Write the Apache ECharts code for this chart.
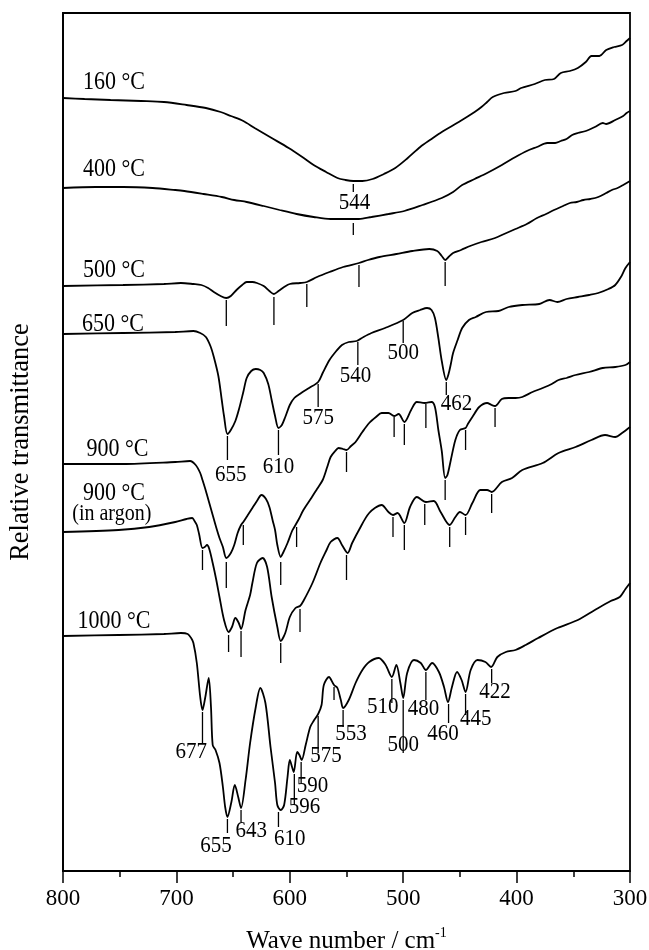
<!DOCTYPE html>
<html>
<head>
<meta charset="utf-8">
<script src="https://cdn.jsdelivr.net/npm/echarts/dist/echarts.min.js"></script>
<style>
html, body { margin: 0; padding: 0; background: #fff; }
#chart { width: 649px; height: 950px; }
</style>
</head>
<body>
<div id="chart"></div>
<script>
// IR spectra of samples annealed at different temperatures.
// Each point: [wave number / cm-1, offset transmittance (arbitrary units)]
const spec160 = [[800,773],[781,772],[758,771],[731,770],[711,769],[691,766],[674,763],[661,759],[652,755],[641,750],[631,743],[616,733],[601,723],[589,714],[579,706],[568,699],[558,693],[551,691],[544,690],[536,690],[527,692],[517,697],[507,703],[496,713],[485,724],[475,732],[466,739],[451,749],[437,759],[431,764],[426,769],[421,774],[411,778],[401,780],[396,783],[384,787],[375,791],[367,792],[361,798],[353,800],[346,803],[339,809],[334,815],[327,815],[321,821],[314,824],[307,826],[303,830],[300,833]];
const spec400 = [[800,683],[771,684],[747,684],[721,683],[701,681],[693,680],[676,677],[660,674],[649,671],[638,669],[623,665],[609,661],[594,657],[579,654],[564,652],[550,652],[544,652],[539,652],[528,654],[513,657],[499,660],[483,666],[466,673],[456,679],[448,686],[437,692],[426,698],[413,706],[401,714],[391,720],[382,724],[373,728],[366,728],[361,730],[356,732],[351,736],[346,738],[339,740],[331,744],[324,748],[321,747],[313,751],[306,755],[303,758],[300,760]];
const spec500 = [[800,585],[747,586],[711,587],[696,588],[685,587],[678,586],[672,583],[667,579],[661,575],[656,573],[652,575],[647,581],[642,586],[638,589],[633,589],[629,588],[623,585],[618,580],[614,577],[610,580],[605,584],[600,587],[591,588],[585,589],[576,594],[565,599],[553,604],[539,608],[531,611],[521,614],[506,617],[492,620],[477,622],[470,620],[466,615],[463,611],[460,614],[456,618],[449,621],[441,625],[431,629],[419,633],[411,637],[401,642],[391,647],[382,653],[374,657],[367,661],[359,665],[353,668],[347,669],[341,671],[335,672],[328,674],[321,678],[316,681],[311,683],[306,686],[300,690]];
const spec650 = [[800,537],[747,538],[701,539],[685,540],[679,538],[674,534],[670,525],[667,514],[663,495],[660,471],[658,455],[655,437],[652,441],[648,450],[645,461],[641,479],[638,493],[634,500],[630,502],[626,501],[623,498],[619,487],[616,471],[613,455],[610,443],[607,446],[604,454],[600,466],[596,473],[590,478],[583,483],[575,489],[571,498],[565,511],[559,520],[554,526],[548,529],[541,530],[535,534],[528,538],[516,543],[500,551],[492,558],[485,561],[479,563],[475,561],[472,553],[469,533],[466,510],[462,491],[460,497],[458,507],[456,518],[452,531],[448,543],[442,551],[436,554],[427,559],[416,560],[407,564],[395,566],[380,567],[371,571],[364,569],[356,572],[346,574],[336,576],[328,578],[319,582],[313,586],[308,594],[304,603],[300,609]];
const spec900 = [[800,407],[747,407],[701,409],[688,410],[683,406],[679,398],[677,391],[674,380],[671,368],[668,356],[665,344],[662,333],[659,324],[656,313],[652,318],[649,326],[646,338],[643,346],[641,349],[637,356],[633,363],[629,370],[625,376],[621,372],[618,364],[615,350],[613,341],[611,326],[608,314],[606,318],[602,328],[598,340],[596,344],[592,352],[588,361],[581,373],[576,382],[571,391],[567,404],[564,414],[560,420],[557,423],[553,422],[550,421],[546,425],[542,429],[536,439],[530,448],[524,454],[519,458],[513,458],[508,455],[504,457],[499,449],[493,461],[488,469],[481,468],[475,469],[472,464],[469,441],[466,420],[463,393],[461,396],[458,411],[454,431],[450,441],[445,443],[443,447],[439,454],[433,464],[426,468],[422,466],[419,465],[413,472],[407,473],[401,473],[395,474],[386,479],[377,483],[369,487],[363,491],[356,493],[348,496],[336,499],[324,503],[313,504],[304,506],[300,509]];
const specArgon = [[800,339],[751,341],[724,344],[701,349],[691,352],[686,353],[684,350],[682,346],[680,337],[677,323],[675,324],[673,326],[671,322],[668,308],[665,292],[662,274],[658,251],[654,239],[651,244],[648,253],[645,248],[643,242],[639,261],[635,276],[633,288],[629,308],[624,313],[620,304],[616,274],[611,244],[608,230],[604,238],[600,254],[595,263],[591,265],[588,270],[580,288],[573,308],[568,320],[564,329],[558,333],[554,326],[549,318],[545,328],[539,341],[530,358],[519,366],[513,359],[509,356],[505,358],[499,348],[494,364],[488,374],[480,369],[473,370],[467,359],[459,346],[454,354],[450,359],[445,356],[439,368],[432,381],[426,381],[422,379],[413,389],[404,393],[395,401],[377,408],[363,418],[348,424],[334,431],[322,436],[313,434],[307,438],[300,444]];
const spec1000 = [[800,235],[751,236],[711,237],[696,238],[690,237],[687,233],[685,228],[682,208],[679,174],[677,161],[674.5,174],[671.5,193],[669.5,164],[668,126],[665.5,121],[662,108],[659,84],[657,64],[655,54],[651.5,69],[648.5,86],[645.5,74],[643,63],[639,91],[635,128],[630,164],[626,183],[621.5,168],[617,124],[613,88],[611,66],[608,61],[605,66],[602,94],[600,111],[598,104],[596.5,99],[593.5,119],[591.5,116],[589.5,111],[586,126],[582,144],[579,150],[575,157],[572,166],[570,186],[565.5,194],[561,186],[558,183],[555,171],[553,163],[548,171],[542,188],[536,201],[530,209],[521.5,213],[515.5,206],[510,194],[506,206],[502.5,188],[500,173],[496.5,198],[490.5,211],[484.5,208],[480,201],[474.5,208],[468.5,199],[464,184],[460.5,169],[457,184],[452.5,199],[448.5,191],[445,179],[440.5,201],[434.5,211],[427.5,209],[422.5,204],[417,214],[409.5,219],[401,221],[392,226],[381,233],[364,243],[346,251],[331,261],[317,270],[309,274],[304,282],[300,288]];

// Peak markers: [wave number, upper end, lower end]
const ticks160 = [[544,687,679]];
const ticks400 = [[544,648,636]];
const ticks500 = [[656,571,545],[614,574,546],[585,587,564],[539,606,584],[463,609,585]];
const ticks650 = [[655,435,411],[610,441,416],[575,487,464],[540,529,506],[500,550,528],[462,489,476]];
const ticks900 = [[656,309,283],[641,346,326],[608,309,286],[594,344,324],[550,419,399],[508,454,434],[499,447,426],[480,467,443],[463,391,371],[445,441,421],[419,463,444]];
const ticksArgon = [[677,321,301],[654,236,219],[643,240,214],[608,228,208],[591,262,239],[550,316,291],[509,354,334],[499,346,321],[481,367,346],[459,344,324],[445,354,336],[422,377,358]];
const ticks1000 = [[677,159,128],[655,52,38],[643,61,49],[610,59,44],[596,97,66],[590,109,88],[575,155,118],[561,184,171],[553,161,144],[510,192,168],[500,171,118],[480,199,171],[460,167,148],[445,177,156],[422,202,188]];

// Peak positions written beside the markers: [wave number, level, text]
const peakLabels = [
  [543,668,'544'],
  [652,396,'655'],[610,404,'610'],[575,453,'575'],[542,495,'540'],[500,518,'500'],[453,467,'462'],
  [687,119,'677'],[665,25,'655'],[634,40,'643'],[600,32,'610'],[587,64,'596'],[580,85,'590'],[568,115,'575'],
  [546,137,'553'],[518,164,'510'],[500,126,'500'],[482,162,'480'],[465,137,'460'],[436,152,'445'],[419,179,'422']
];

// Annealing temperatures: [wave number, level, text]
const tempLabels = [
  [755,788,'160 °C'],[755,701,'400 °C'],[755,600,'500 °C'],[756,546,'650 °C'],
  [752,421,'900 °C'],[755,377,'900 °C'],[755,249,'1000 °C']
];
const noteLabels = [[757,357,'(in argon)']];

const xTicks = { min: 300, max: 800, step: 100 };

const serif = '"Liberation Serif", "Times New Roman", serif';
const spectra = [spec160, spec400, spec500, spec650, spec900, specArgon, spec1000];
const allTicks = [].concat(ticks160, ticks400, ticks500, ticks650, ticks900, ticksArgon, ticks1000);

// Text placed in data coordinates; glyphs are slightly tall and narrow in this typesetting
function textSeries(rows, size) {
  return {
    type: 'custom',
    silent: true,
    data: rows.map(r => [r[0], r[1]]),
    encode: { x: 0, y: 1 },
    renderItem: function (params, api) {
      const p = api.coord([api.value(0), api.value(1)]);
      return {
        type: 'text',
        x: p[0], y: p[1],
        scaleY: 1.12,
        style: {
          text: rows[params.dataIndex][2],
          fill: '#000',
          font: size + 'px ' + serif,
          align: 'center',
          verticalAlign: 'middle'
        }
      };
    }
  };
}

const series = spectra.map(d => ({
  type: 'line',
  data: d,
  showSymbol: false,
  smooth: 0.3,
  silent: true,
  lineStyle: { color: '#000', width: 1.8 }
}));

series.push({
  type: 'custom',
  silent: true,
  data: allTicks,
  encode: { x: 0, y: [1, 2] },
  renderItem: function (params, api) {
    const a = api.coord([api.value(0), api.value(1)]);
    const b = api.coord([api.value(0), api.value(2)]);
    return {
      type: 'line',
      shape: { x1: a[0], y1: a[1], x2: b[0], y2: b[1] },
      style: { stroke: '#000', lineWidth: 1.3 }
    };
  }
});
series.push(textSeries(peakLabels, 21));
series.push(textSeries(tempLabels, 22));
series.push(textSeries(noteLabels, 20));

const chart = echarts.init(document.getElementById('chart'), null, { renderer: 'canvas' });
chart.setOption({
  animation: false,
  backgroundColor: '#fff',
  grid: {
    left: 63, right: 19, top: 13, bottom: 79,
    containLabel: false, outerBoundsMode: 'none',
    show: true, borderColor: '#000', borderWidth: 1.8
  },
  xAxis: {
    type: 'value',
    inverse: true,
    min: xTicks.min, max: xTicks.max, interval: xTicks.step,
    axisLine: { lineStyle: { color: '#000', width: 1.8 } },
    axisTick: { show: true, inside: false, length: 12, lineStyle: { color: '#000', width: 1.5 } },
    minorTick: { show: true, splitNumber: 2, length: 6, lineStyle: { color: '#000', width: 1.5 } },
    splitLine: { show: false },
    minorSplitLine: { show: false },
    axisLabel: { color: '#000', fontSize: 23, fontFamily: serif, margin: 16 },
    name: 'Wave number / cm{sup|-1}',
    nameLocation: 'middle',
    nameGap: 55,
    nameTextStyle: {
      color: '#000', fontSize: 25, fontFamily: serif,
      rich: { sup: { color: '#000', fontSize: 14, fontFamily: serif, padding: [0, 0, 16, 0] } }
    }
  },
  yAxis: {
    type: 'value',
    min: 0, max: 858,
    axisLine: { show: true, lineStyle: { color: '#000', width: 1.8 } },
    axisTick: { show: false },
    axisLabel: { show: false },
    splitLine: { show: false },
    name: 'Relative transmittance',
    nameLocation: 'middle',
    nameRotate: 90,
    nameGap: 28,
    nameTextStyle: { color: '#000', fontSize: 26.5, fontFamily: serif }
  },
  series: series
});
</script>
</body>
</html>
